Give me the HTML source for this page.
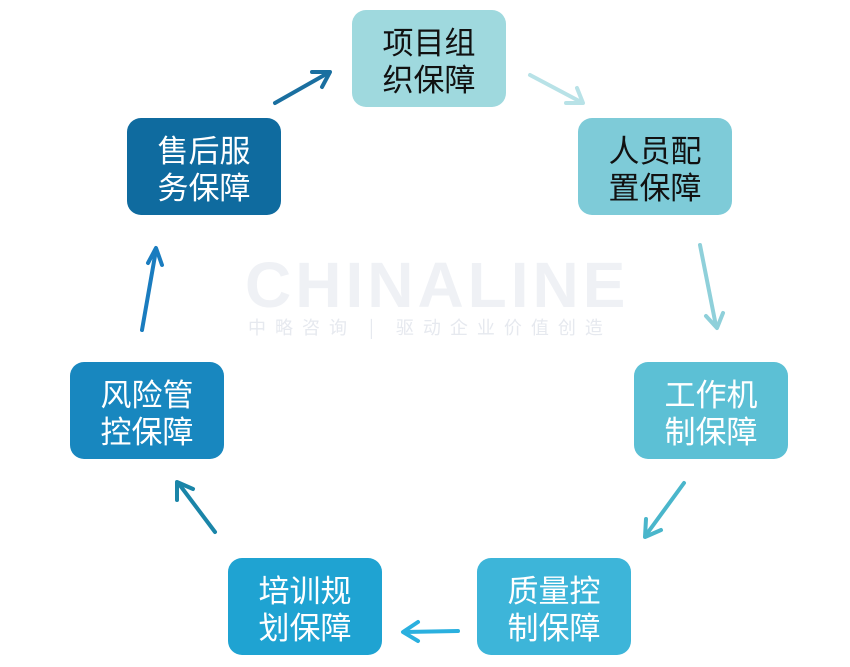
<!DOCTYPE html>
<html><head><meta charset="utf-8"><style>
body{margin:0;width:850px;height:667px;background:#fff;position:relative;overflow:hidden;font-family:"Liberation Sans","Noto Sans CJK SC",sans-serif}
.b{position:absolute;width:154px;height:97px;border-radius:14px;display:flex;align-items:center;justify-content:center;text-align:center;font-size:31px;line-height:37px;color:#fff;font-family:"Noto Sans CJK SC",sans-serif}
.wm{position:absolute;color:#eff1f5;font-weight:bold}
</style></head><body>
<div class="wm" style="left:245px;top:248px;font-size:64px;letter-spacing:4px">CHINALINE</div>
<div class="wm" style="left:248px;top:314px;font-size:18px;letter-spacing:9px;font-weight:normal;color:#e6e9ef;font-family:'Noto Sans CJK SC',sans-serif">中略咨询 | 驱动企业价值创造</div>
<div class="b" style="left:352px;top:10px;background:#9fd9de;color:#111">项目组<br>织保障</div>
<div class="b" style="left:578px;top:118px;background:#7ecbd8;color:#111">人员配<br>置保障</div>
<div class="b" style="left:634px;top:362px;background:#5cc0d5">工作机<br>制保障</div>
<div class="b" style="left:477px;top:558px;background:#3db5d9">质量控<br>制保障</div>
<div class="b" style="left:228px;top:558px;background:#1fa3d2">培训规<br>划保障</div>
<div class="b" style="left:70px;top:362px;background:#1887bf">风险管<br>控保障</div>
<div class="b" style="left:127px;top:118px;background:#0f6b9f">售后服<br>务保障</div>
<svg width="850" height="667" style="position:absolute;left:0;top:0" fill="none" stroke-width="4" stroke-linecap="round" stroke-linejoin="round">
<g stroke="#1a6fa0"><path d="M275 103 L328 73"/><path d="M312 72 L330 72 L322 87"/></g>
<g stroke="#b8e2e7"><path d="M530 75 L581 102"/><path d="M566 103 L583 103 L577 88"/></g>
<g stroke="#8fd0da"><path d="M700 245 L716 326"/><path d="M706 316 L717 328 L723 313"/></g>
<g stroke="#4ab6cb"><path d="M684 483 L646 535"/><path d="M646 519 L645 537 L661 530"/></g>
<g stroke="#2ab0df"><path d="M458 631 L405 632"/><path d="M418 622 L403 632 L418 641"/></g>
<g stroke="#1a85a8"><path d="M215 532 L179 484"/><path d="M177 500 L177 482 L193 489"/></g>
<g stroke="#1a7cbf"><path d="M142 330 L156 250"/><path d="M148 263 L156 248 L162 265"/></g>
</svg>
</body></html>
